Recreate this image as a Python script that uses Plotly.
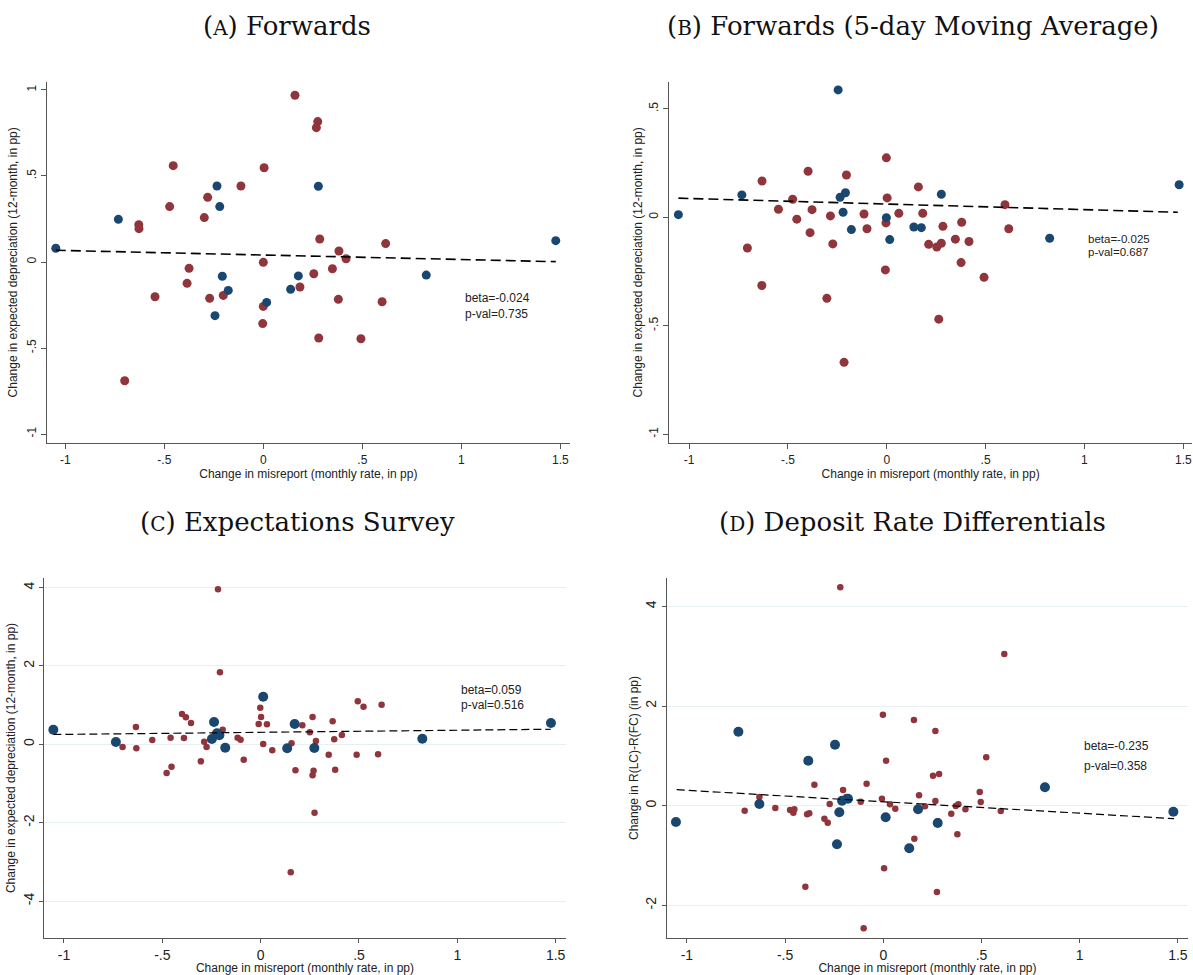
import plotly.graph_objects as go

W, H = 1193, 975
BLUE = "#1a476f"
RED = "#90353b"

# ---------------- data ----------------
# Panel A: Forwards
a_blue_x = [-1.048, -0.732, -0.234, -0.220, -0.207, -0.177, -0.244, 0.017, 0.138, 0.177, 0.278, 0.823, 1.477]
a_blue_y = [0.080, 0.248, 0.442, 0.322, -0.083, -0.165, -0.312, -0.235, -0.159, -0.081, 0.440, -0.076, 0.124]
a_red_x = [0.160, -0.455, 0.004, -0.113, -0.281, -0.473, -0.298, -0.629, -0.628, -0.375, -0.385, -0.547,
           -0.271, -0.202, 0.000, 0.000, -0.003, -0.700, 0.185, 0.275, 0.268, 0.285, 0.382, 0.418,
           0.349, 0.255, 0.618, 0.379, 0.600, 0.280, 0.493]
a_red_y = [0.969, 0.560, 0.548, 0.442, 0.376, 0.322, 0.258, 0.217, 0.194, -0.037, -0.124, -0.202,
           -0.211, -0.194, -0.002, -0.258, -0.358, -0.690, -0.145, 0.816, 0.781, 0.134, 0.064, 0.019,
           -0.039, -0.068, 0.107, -0.217, -0.231, -0.442, -0.446]
a_fit_x = [-1.048, 1.477]
a_fit_y = [0.068, 0.002]

# Panel B: Forwards (5-day moving average)
b_blue_x = [-1.054, -0.733, -0.246, -0.236, -0.209, -0.221, -0.179, -0.002, 0.015, 0.137, 0.175, 0.276, 0.824, 1.479]
b_blue_y = [0.012, 0.103, 0.587, 0.092, 0.113, 0.023, -0.057, -0.002, -0.103, -0.045, -0.048, 0.106, -0.097, 0.150]
b_red_x = [-0.631, -0.705, -0.632, -0.548, -0.476, -0.455, -0.398, -0.378, -0.388, -0.285, -0.273, -0.303,
           -0.216, -0.204, -0.115, -0.100, -0.002, 0.002, -0.004, -0.007, 0.061, 0.160, 0.182, 0.284,
           0.379, 0.212, 0.253, 0.276, 0.347, 0.416, 0.376, 0.492, 0.263, 0.598, 0.617]
b_red_y = [0.167, -0.142, -0.315, 0.037, 0.083, -0.009, 0.212, 0.035, -0.071, 0.006, -0.123, -0.374,
           -0.669, 0.195, 0.015, -0.053, 0.274, 0.089, -0.026, -0.243, 0.018, 0.140, 0.018, -0.042,
           -0.023, -0.125, -0.137, -0.120, -0.101, -0.112, -0.209, -0.277, -0.470, 0.058, -0.053]
b_fit_x = [-1.054, 1.472]
b_fit_y = [0.088, 0.023]

# Panel C: Expectations survey
c_blue_x = [-1.054, -0.736, -0.237, -0.248, -0.222, -0.210, -0.180, 0.013, 0.135, 0.173, 0.273, 0.822, 1.476]
c_blue_y = [0.373, 0.059, 0.569, 0.135, 0.280, 0.230, -0.087, 1.215, -0.102, 0.518, -0.094, 0.143, 0.544]
c_red_x = [-0.217, -0.207, -0.702, -0.634, -0.632, -0.551, -0.478, -0.458, -0.453, -0.400, -0.380, -0.354,
           -0.390, -0.304, -0.287, -0.275, -0.193, -0.117, -0.102, -0.086, -0.002, 0.002, -0.010, 0.032,
           0.013, 0.059, 0.153, 0.157, 0.177, 0.212, 0.264, 0.250, 0.281, 0.269, 0.264, 0.274, 0.346,
           0.366, 0.374, 0.379, 0.413, 0.494, 0.523, 0.488, 0.597, 0.615]
c_red_y = [3.957, 1.838, -0.069, 0.442, -0.102, 0.110, -0.733, 0.168, -0.572, 0.774, 0.689, 0.544,
           0.161, -0.434, 0.066, -0.069, 0.373, 0.168, 0.117, -0.393, 0.934, 0.697, 0.518, 0.510,
           0.008, -0.153, -3.268, 0.025, -0.664, 0.485, 0.697, 0.306, 0.084, -0.674, -0.790, -1.746, -0.265,
           0.587, 0.128, -0.648, 0.237, 1.098, 0.960, -0.265, -0.255, 1.011]
c_fit_x = [-1.054, 1.476]
c_fit_y = [0.250, 0.385]

# Panel D: Deposit rate differentials
d_blue_x = [-1.056, -0.738, -0.631, -0.382, -0.246, -0.236, -0.224, -0.210, -0.180, 0.012, 0.132, 0.177, 0.277, 0.823, 1.477]
d_blue_y = [-0.327, 1.485, 0.034, 0.903, 1.224, -0.775, -0.132, 0.100, 0.140, -0.233, -0.855, -0.073, -0.347, 0.369, -0.120]
d_red_x = [-0.219, -0.706, -0.631, -0.550, -0.475, -0.458, -0.453, -0.351, -0.388, -0.377, -0.397, -0.300,
           -0.283, -0.273, -0.205, -0.188, -0.115, -0.085, -0.100, -0.002, 0.014, -0.007, 0.034, 0.061,
           0.004, 0.156, 0.265, 0.158, 0.182, 0.212, 0.253, 0.284, 0.265, 0.277, 0.273, 0.346, 0.369,
           0.382, 0.377, 0.418, 0.491, 0.496, 0.524, 0.598, 0.616]
d_red_y = [4.383, -0.100, 0.175, -0.046, -0.086, -0.140, -0.072, 0.421, -0.173, -0.153, -1.625, -0.261,
           -0.341, 0.034, 0.315, 0.175, 0.080, 0.441, -2.460, 1.826, 0.903, 0.140, 0.028, -0.060,
           -1.256, 1.720, 1.499, -0.662, 0.209, -0.012, 0.602, 0.636, 0.094, -0.313, -1.732, -0.160, -0.006,
           0.028, -0.574, -0.072, 0.275, 0.074, 0.971, -0.106, 3.044]
d_fit_x = [-1.052, 1.480]
d_fit_y = [0.321, -0.261]

x_tickvals = [-1, -0.5, 0, 0.5, 1, 1.5]
x_ticktext = ["-1", "-.5", "0", ".5", "1", "1.5"]

SC = "<span style='font-size:20px'>{}</span>"
panels = [
    dict(title="(" + SC.format("A") + ") Forwards", tx=287, ty=26,
         bx=a_blue_x, by=a_blue_y, rx=a_red_x, ry=a_red_y, fx=a_fit_x, fy=a_fit_y,
         px=(46.7, 570), py=(81.7, 443), xr=(-1.094, 1.549), yr=(-1.052, 1.048),
         yv=[-1, -0.5, 0, 0.5, 1], yt=["-1", "-.5", "0", ".5", "1"],
         ytitle="Change in expected depreciation (12-month, in pp)",
         grid=False, bs=9, rs=9, tickfs=12, ticklen=5, fdash="10px,5px", fw=1.6, xts=2, yts=4,
         ann=[("beta=-0.024", 463, 297.7, 12), ("p-val=0.735", 463, 314.3, 12)]),
    dict(title="(" + SC.format("B") + ") Forwards (5-day Moving Average)", tx=913, ty=26,
         bx=b_blue_x, by=b_blue_y, rx=b_red_x, ry=b_red_y, fx=b_fit_x, fy=b_fit_y,
         px=(669.3, 1192), py=(81.7, 443), xr=(-1.100, 1.544), yr=(-1.041, 0.625),
         yv=[-1, -0.5, 0, 0.5], yt=["-1", "-.5", "0", ".5"],
         ytitle="Change in expected depreciation (12-month, in pp)",
         grid=False, bs=9, rs=9, tickfs=12, ticklen=5, fdash="10px,5px", fw=1.6, xts=2, yts=2,
         ann=[("beta=-0.025", 1086, 238.5, 11.5), ("p-val=0.687", 1086, 252, 11.5)]),
    dict(title="(" + SC.format("C") + ") Expectations Survey", tx=297, ty=522,
         bx=c_blue_x, by=c_blue_y, rx=c_red_x, ry=c_red_y, fx=c_fit_x, fy=c_fit_y,
         px=(44.3, 565.7), py=(578.3, 937.7), xr=(-1.100, 1.551), yr=(-4.937, 4.238),
         yv=[-4, -2, 0, 2, 4], yt=["-4", "-2", "0", "2", "4"],
         ytitle="Change in expected depreciation (12-month, in pp)",
         grid=True, bs=10, rs=6.5, tickfs=14, ticklen=4, fdash="8px,4px", fw=1.2, xts=0, yts=2,
         ann=[("beta=0.059", 459, 690, 12), ("p-val=0.516", 459, 705.3, 12)]),
    dict(title="(" + SC.format("D") + ") Deposit Rate Differentials", tx=912, ty=522,
         bx=d_blue_x, by=d_blue_y, rx=d_red_x, ry=d_red_y, fx=d_fit_x, fy=d_fit_y,
         px=(666.7, 1188.3), py=(578.3, 937.7), xr=(-1.103, 1.553), yr=(-2.649, 4.563),
         yv=[-2, 0, 2, 4], yt=["-2", "0", "2", "4"],
         ytitle="Change in R(LC)-R(FC) (in pp)",
         grid=True, bs=10, rs=6.5, tickfs=14, ticklen=4, fdash="8px,4px", fw=1.2, xts=0, yts=1,
         ann=[("beta=-0.235", 1082, 746, 12), ("p-val=0.358", 1082, 765.7, 12)]),
]

fig = go.Figure()
annotations = []
layout = dict(width=W, height=H, margin=dict(l=0, r=0, t=0, b=0),
              paper_bgcolor="white", plot_bgcolor="white", showlegend=False,
              font=dict(family="Liberation Sans, Arial, sans-serif", color="#222222"))

AX = "#555555"
for i, p in enumerate(panels, start=1):
    xa = "x" if i == 1 else f"x{i}"
    ya = "y" if i == 1 else f"y{i}"
    fig.add_trace(go.Scatter(x=p["rx"], y=p["ry"], mode="markers", xaxis=xa, yaxis=ya,
                             marker=dict(color=RED, size=p["rs"], line=dict(width=0))))
    fig.add_trace(go.Scatter(x=p["bx"], y=p["by"], mode="markers", xaxis=xa, yaxis=ya,
                             marker=dict(color=BLUE, size=p["bs"], line=dict(width=0))))
    fig.add_trace(go.Scatter(x=p["fx"], y=p["fy"], mode="lines", xaxis=xa, yaxis=ya,
                             line=dict(color="black", width=p["fw"], dash=p["fdash"])))
    xd = [p["px"][0] / W, p["px"][1] / W]
    yd = [1 - p["py"][1] / H, 1 - p["py"][0] / H]
    xkey = "xaxis" if i == 1 else f"xaxis{i}"
    ykey = "yaxis" if i == 1 else f"yaxis{i}"
    layout[xkey] = dict(domain=xd, range=list(p["xr"]), anchor=ya, showgrid=False, zeroline=False,
                        showline=True, linecolor=AX, linewidth=1.3, ticks="outside", ticklen=p["ticklen"],
                        tickcolor=AX, tickwidth=1.2, tickvals=x_tickvals, ticktext=x_ticktext,
                        tickfont=dict(size=p["tickfs"], color="#222222"),
                        title=dict(text="Change in misreport (monthly rate, in pp)",
                                   font=dict(size=12, color="#222222"), standoff=p["xts"]))
    layout[ykey] = dict(domain=yd, range=list(p["yr"]), anchor=xa, showgrid=p["grid"],
                        gridcolor="#e6eff1", gridwidth=1.3, zeroline=False,
                        showline=True, linecolor=AX, linewidth=1.3, ticks="outside", ticklen=p["ticklen"],
                        tickcolor=AX, tickwidth=1.2, tickvals=p["yv"], ticktext=p["yt"],
                        tickangle=-90, tickfont=dict(size=p["tickfs"], color="#222222"),
                        title=dict(text=p["ytitle"], font=dict(size=12, color="#222222"), standoff=p["yts"]))
    annotations.append(dict(text=p["title"], x=p["tx"] / W, y=1 - p["ty"] / H, xref="paper", yref="paper",
                            xanchor="center", yanchor="middle", showarrow=False,
                            font=dict(family="DejaVu Serif, Liberation Serif, serif", size=26, color="#111111")))
    for txt, ax_, ay_, fs in p["ann"]:
        annotations.append(dict(text=txt, x=ax_ / W, y=1 - ay_ / H, xref="paper", yref="paper",
                                xanchor="left", yanchor="middle", showarrow=False,
                                font=dict(size=fs, color="#222222")))

layout["annotations"] = annotations
fig.update_layout(**layout)
fig.write_html("out.html")
